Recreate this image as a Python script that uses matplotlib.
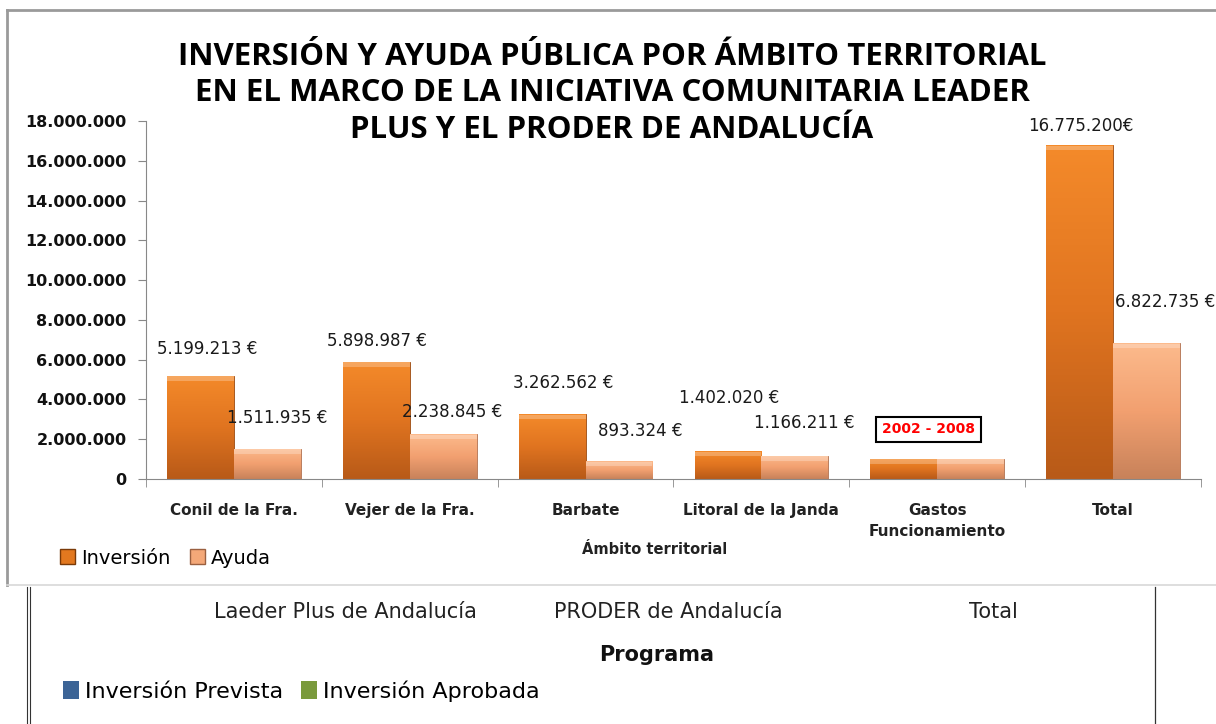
import matplotlib.pyplot as plt
import numpy as np
from matplotlib.colors import LinearSegmentedColormap
from matplotlib.patches import Rectangle, Patch
from matplotlib.lines import Line2D
from matplotlib.ticker import FuncFormatter

categories = ["Conil de la Fra.", "Vejer de la Fra.", "Barbate", "Litoral de la Janda",
              "Gastos\nFuncionamiento", "Total"]
inversion = [5199213, 5898987, 3262562, 1402020, 1012418, 16775200]
ayuda = [1511935, 2238845, 893324, 1166211, 1012420, 6822735]
# Gastos Funcionamiento has no label in the original
inv_labels = ["5.199.213 €", "5.898.987 €", "3.262.562 €", "1.402.020 €", None, "16.775.200€"]
ayu_labels = ["1.511.935 €", "2.238.845 €", "893.324 €", "1.166.211 €", None, "6.822.735 €"]
programas = ["Laeder Plus de Andalucía", "PRODER de Andalucía", "Total"]

# label offsets (pixels) from top-centre of each bar, as placed in the original
inv_off = [(7, 27), (1, 21), (11, 31), (1, 53), (0, 0), (1, 19)]
ayu_off = [(10, 31), (9, 22), (21, 30), (9, 33), (0, 0), (19, 41)]

W, H = 1216, 724
fig = plt.figure(figsize=(W / 100, H / 100), dpi=100)

def fx(px):
    return px / W

def fy(py):
    return 1 - py / H

# outer frame of the upper chart
fig.add_artist(Line2D([fx(7), fx(7)], [fy(10), fy(585)], color="#9a9a9a", lw=2))
fig.add_artist(Line2D([fx(7), fx(1216)], [fy(10), fy(10)], color="#9a9a9a", lw=2))
fig.add_artist(Line2D([fx(7), fx(1216)], [fy(585), fy(585)], color="#d8d8d8", lw=1.2))
# lower panel borders
fig.add_artist(Line2D([fx(27), fx(27)], [fy(587), fy(724)], color="#333333", lw=0.8))
fig.add_artist(Line2D([fx(29.5), fx(29.5)], [fy(587), fy(724)], color="#333333", lw=0.8))
fig.add_artist(Line2D([fx(1155), fx(1155)], [fy(587), fy(724)], color="#333333", lw=0.9))

ax = fig.add_axes([fx(146), fy(479), fx(1201) - fx(146), fy(121) - fy(479)])
x = np.arange(len(categories))
w = 0.38
inv_col = "#E2781F"
ayu_col = "#F4A878"
bars_inv = ax.bar(x - w / 2, inversion, w, color=inv_col, edgecolor="#9a4a10", lw=0.6, zorder=2)
bars_ayu = ax.bar(x + w / 2, ayuda, w, color=ayu_col, edgecolor="#b07050", lw=0.6, zorder=2)

cm_inv = LinearSegmentedColormap.from_list("inv", ["#B85A18", "#E07420", "#F48A2A"])
cm_ayu = LinearSegmentedColormap.from_list("ayu", ["#C8825A", "#F2A070", "#FCBA8C"])
grad = np.linspace(0, 1, 100).reshape(-1, 1)
for bars, cm in [(bars_inv, cm_inv), (bars_ayu, cm_ayu)]:
    for b in bars:
        x0, h = b.get_x(), b.get_height()
        im = ax.imshow(grad, extent=[x0, x0 + b.get_width(), 0, h], origin="lower",
                       aspect="auto", cmap=cm, zorder=2.5)
        im.set_clip_path(b)
        # light bevel strip on top
        ax.add_patch(Rectangle((x0, h - 250000), b.get_width(), 230000,
                               color="white", alpha=0.25, lw=0, zorder=3))

ax.set_xlim(-0.5, len(categories) - 0.5)
ax.set_ylim(0, 18000000)
ax.set_yticks(np.arange(0, 18000001, 2000000))
ax.yaxis.set_major_formatter(FuncFormatter(lambda v, p: f"{int(v):,}".replace(",", ".")))
ax.set_xticks(np.arange(-0.5, len(categories), 1), minor=True)
ax.set_xticks(x)
ax.set_xticklabels(categories, fontsize=11, fontweight="bold", color="#222222", linespacing=1.5)
ax.tick_params(axis="x", which="major", length=0, pad=17)
ax.tick_params(axis="x", which="minor", length=6, color="#888888")
ax.tick_params(axis="y", length=6, color="#888888", labelsize=11.5, labelcolor="#111111", pad=8)
for t in ax.get_yticklabels():
    t.set_fontweight("bold")
for s in ["top", "right"]:
    ax.spines[s].set_visible(False)
ax.spines["left"].set_color("#888888")
ax.spines["bottom"].set_color("#888888")

for bars, labels, offs in [(bars_inv, inv_labels, inv_off), (bars_ayu, ayu_labels, ayu_off)]:
    for b, lab, (dx, dy) in zip(bars, labels, offs):
        if lab:
            ax.annotate(lab, (b.get_x() + b.get_width() / 2, b.get_height()),
                        xytext=(dx * 0.72, dy * 0.72), textcoords="offset points",
                        ha="center", va="center", fontsize=12, color="#1a1a1a",
                        zorder=5, annotation_clip=False)

ax.text(3.95, 2510000, "2002 - 2008", ha="center", va="center", fontsize=10,
        fontweight="bold", color="#ff0000", zorder=6,
        bbox=dict(boxstyle="square,pad=0.4", fc="white", ec="black", lw=1.5))

title_lines = ["INVERSIÓN Y AYUDA PÚBLICA POR ÁMBITO TERRITORIAL",
               "EN EL MARCO DE LA INICIATIVA COMUNITARIA LEADER",
               "PLUS Y EL PRODER DE ANDALUCÍA"]
for line, py in zip(title_lines, [57, 93, 130]):
    fig.text(fx(612), fy(py), line, ha="center", va="center", fontsize=22.5,
             fontweight="bold", family="Open Sans")

fig.text(fx(655), fy(550), "Ámbito territorial", ha="center", va="center",
         fontsize=10.5, fontweight="bold", color="#222222")

handles = [Patch(facecolor=inv_col, edgecolor="#7a3a08"), Patch(facecolor=ayu_col, edgecolor="#9a6040")]
fig.legend(handles, ["Inversión", "Ayuda"], loc="center left", bbox_to_anchor=(fx(42), fy(558)),
           ncol=2, frameon=False, fontsize=14, handlelength=0.8, handleheight=0.8,
           handletextpad=0.3, columnspacing=1.0)

# lower (cropped) panel
for lab, px in zip(programas, [345, 668, 993]):
    fig.text(fx(px), fy(612), lab, ha="center", va="center", fontsize=15, color="#222222")
fig.text(fx(657), fy(655), "Programa", ha="center", va="center", fontsize=15,
         fontweight="bold", color="#111111")
fig.legend([Patch(facecolor="#3C6496"), Patch(facecolor="#7A9A3C")],
           ["Inversión Prevista", "Inversión Aprobada"], loc="center left",
           bbox_to_anchor=(fx(43), fy(691)), ncol=2, frameon=False,
           fontsize=16, handlelength=0.7, handleheight=0.9,
           handletextpad=0.3, columnspacing=0.8)

fig.savefig("out.png", dpi=100)
